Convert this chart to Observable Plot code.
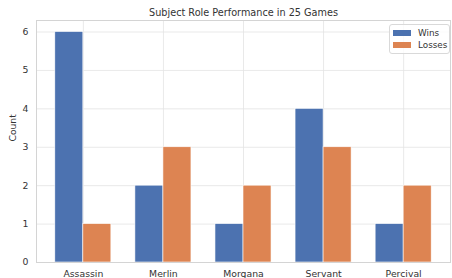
<!DOCTYPE html>
<html><head><meta charset="utf-8">
<script src="https://cdn.jsdelivr.net/npm/d3@7"></script>
<script src="https://cdn.jsdelivr.net/npm/@observablehq/plot@0.6"></script>
<style>
body{margin:0;background:#fff;font-family:"DejaVu Sans",sans-serif;}
#wrap{position:relative;width:452px;height:278px;}
.legend{position:absolute;left:389px;top:24px;width:61px;height:30px;border:1px solid #d9d9d9;border-radius:3px;background:rgba(255,255,255,0.8);font-size:8.8px;color:#333;box-sizing:border-box;}
.legend div{position:absolute;left:3px;display:flex;align-items:center;line-height:10px;}
.legend span.sw{display:inline-block;width:18px;height:6px;margin-right:7px;}
</style></head>
<body><div id="wrap"></div>
<script>
const roles = ["Assassin", "Merlin", "Morgana", "Servant", "Percival"];
const wins = [6, 2, 1, 4, 1];
const losses = [1, 3, 2, 3, 2];
const series = ["Wins", "Losses"];
const colors = ["#4C72B0", "#DD8452"];
const yTicks = [0, 1, 2, 3, 4, 5, 6];

const barW = 0.35;
const data = [];
roles.forEach((r, i) => {
  data.push({i, series: "Wins", value: wins[i], x1: i - barW, x2: i});
  data.push({i, series: "Losses", value: losses[i], x1: i, x2: i + barW});
});
const xt = roles.map((_, i) => i);
const txt = "#333";

const chart = Plot.plot({
  width: 452, height: 278,
  marginLeft: 36, marginRight: 2, marginTop: 20, marginBottom: 16,
  style: {fontFamily: "DejaVu Sans, sans-serif", fontSize: "9px", color: txt, background: "#fff"},
  x: {domain: [-0.585, 4.585], ticks: xt, tickFormat: i => roles[i], label: null},
  y: {domain: [0, 6.3], ticks: yTicks, label: null},
  color: {domain: series, range: colors},
  marks: [
    Plot.gridY(yTicks, {stroke: "#e3e3e3", strokeOpacity: 1, strokeWidth: 0.8}),
    Plot.gridX(xt, {stroke: "#e3e3e3", strokeOpacity: 1, strokeWidth: 0.8}),
    Plot.rectY(data, {x1: "x1", x2: "x2", y1: 0, y2: "value", fill: "series", stroke: "#fff", strokeWidth: 0.6}),
    Plot.frame({stroke: "#d4d4d4", strokeWidth: 1}),
    Plot.axisX(xt, {tickSize: 0, tickPadding: 8, tickFormat: i => roles[i], fill: txt, fontSize: 9.3}),
    Plot.axisY(yTicks, {tickSize: 0, tickPadding: 8, fill: txt, fontSize: 9.3}),
    Plot.text(["Count"], {frameAnchor: "left", dx: -23, rotate: -90, fontSize: 9.2, fill: txt}),
    Plot.text(["Subject Role Performance in 25 Games"], {frameAnchor: "top", lineAnchor: "middle", dy: -8, fontSize: 9.7, fill: txt})
  ]
});
const wrap = document.getElementById("wrap");
wrap.appendChild(chart);
const lg = document.createElement("div");
lg.className = "legend";
series.forEach((s, k) => {
  const d = document.createElement("div");
  d.style.top = (3 + k * 12) + "px";
  d.innerHTML = `<span class="sw" style="background:${colors[k]}"></span>${s}`;
  lg.appendChild(d);
});
wrap.appendChild(lg);
</script></body></html>
